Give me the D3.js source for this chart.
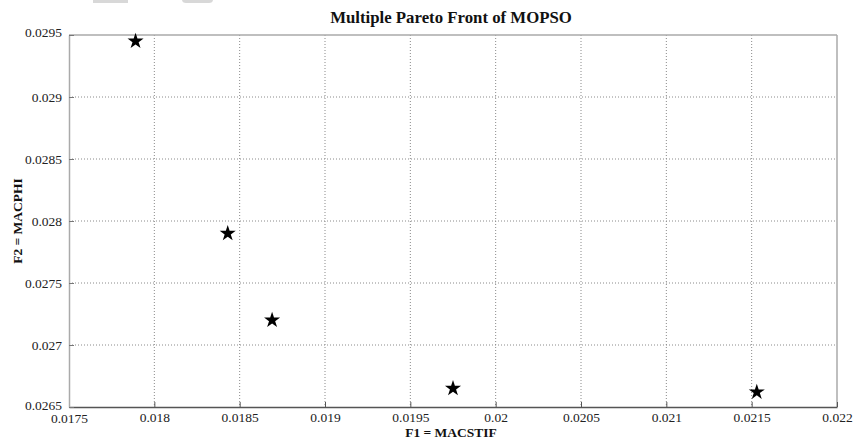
<!DOCTYPE html>
<html>
<head>
<meta charset="utf-8">
<script src="https://cdn.jsdelivr.net/npm/d3@7"></script>
<style>
  body { margin: 0; background: #fff; }
  svg { display: block; }
</style>
</head>
<body>
<svg id="chart" width="855" height="439"></svg>
<script>
const titleText = "Multiple Pareto Front of MOPSO";
const xLabel = "F1 = MACSTIF";
const yLabel = "F2 = MACPHI";
const f1Values = [0.01789, 0.01843, 0.01869, 0.01975, 0.02153];
const f2Values = [0.02945, 0.02790, 0.02720, 0.02665, 0.02662];
const xTicks = [0.0175, 0.018, 0.0185, 0.019, 0.0195, 0.02, 0.0205, 0.021, 0.0215, 0.022];
const yTicks = [0.0265, 0.027, 0.0275, 0.028, 0.0285, 0.029, 0.0295];

const FONT = '"Liberation Serif", "Times New Roman", serif';
const svg = d3.select("#chart");
const mLeft = 69, mRight = 837, mTop = 35, mBottom = 407;

const x = d3.scaleLinear().domain([0.0175, 0.022]).range([mLeft, mRight]);
const y = d3.scaleLinear().domain([0.0265, 0.0295]).range([mBottom, mTop]);

// faint toolbar remnants at the very top
svg.append("rect").attr("x", 93).attr("y", 0).attr("width", 35).attr("height", 3).attr("fill", "#d8d8d8");
svg.append("rect").attr("x", 182).attr("y", -4).attr("width", 31).attr("height", 7).attr("rx", 4).attr("fill", "#d8d8d8");

// grid
const g = svg.append("g");
g.selectAll("line.vg").data(xTicks.slice(1, -1)).enter().append("line")
  .attr("x1", d => x(d)).attr("x2", d => x(d)).attr("y1", mTop).attr("y2", mBottom)
  .attr("stroke", "#8a8a8a").attr("stroke-width", 1).attr("stroke-dasharray", "1,2");
g.selectAll("line.hg").data(yTicks.slice(1, -1)).enter().append("line")
  .attr("y1", d => y(d)).attr("y2", d => y(d)).attr("x1", mLeft).attr("x2", mRight)
  .attr("stroke", "#8a8a8a").attr("stroke-width", 1).attr("stroke-dasharray", "1,2");

// box
svg.append("line").attr("x1", mLeft).attr("x2", mRight).attr("y1", mTop).attr("y2", mTop).attr("stroke", "#aaa").attr("stroke-width", 1.5);
svg.append("line").attr("x1", mRight).attr("x2", mRight).attr("y1", mTop).attr("y2", mBottom).attr("stroke", "#aaa").attr("stroke-width", 1.5);

// axes
const fmt = d => String(+d.toPrecision(4));
const xAxis = d3.axisBottom(x).tickValues(xTicks).tickFormat(fmt).tickSizeInner(-5).tickSizeOuter(0).tickPadding(5);
const yAxis = d3.axisLeft(y).tickValues(yTicks).tickFormat(fmt).tickSizeInner(-5).tickSizeOuter(0).tickPadding(7);

const gx = svg.append("g").attr("transform", `translate(0,${mBottom})`).call(xAxis);
gx.select(".domain").attr("stroke", "#555").attr("stroke-width", 1.5);
gx.selectAll(".tick line").attr("stroke", "#555");
gx.selectAll(".tick text").style("font-size", "13.5px").style("font-family", FONT).attr("fill", "#222");
gx.selectAll(".tick text").filter(d => d === 0.0175).attr("dy", "0.78em");

const gy = svg.append("g").attr("transform", `translate(${mLeft},0)`).call(yAxis);
gy.select(".domain").attr("stroke", "#aaa").attr("stroke-width", 1.5);
gy.selectAll(".tick line").attr("stroke", "#777");
gy.selectAll(".tick text").style("font-size", "13.5px").style("font-family", FONT).attr("fill", "#222");
gy.selectAll(".tick text").filter(d => d === 0.0295).attr("dy", "0.12em");
gy.selectAll(".tick text").filter(d => d === 0.0265).attr("dy", "0.18em");

// points
const star = d3.symbol().type(d3.symbolStar).size(80);
svg.append("g").selectAll("path").data(f1Values.map((v, i) => [v, f2Values[i]])).enter().append("path")
  .attr("d", star)
  .attr("transform", d => `translate(${x(d[0])},${y(d[1])})`)
  .attr("fill", "#000");

// labels
svg.append("text").attr("x", 451).attr("y", 22.5).attr("text-anchor", "middle")
  .style("font-size", "16.8px").style("font-family", FONT).attr("font-weight", "bold").attr("fill", "#111").text(titleText);
svg.append("text").attr("x", 451).attr("y", 437).attr("text-anchor", "middle")
  .style("font-size", "13.5px").style("font-family", FONT).attr("font-weight", "bold").attr("fill", "#111").text(xLabel);
svg.append("text").attr("transform", "translate(22,221) rotate(-90)").attr("text-anchor", "middle")
  .style("font-size", "13.5px").style("font-family", FONT).attr("font-weight", "bold").attr("fill", "#111").text(yLabel);
</script>
</body>
</html>
